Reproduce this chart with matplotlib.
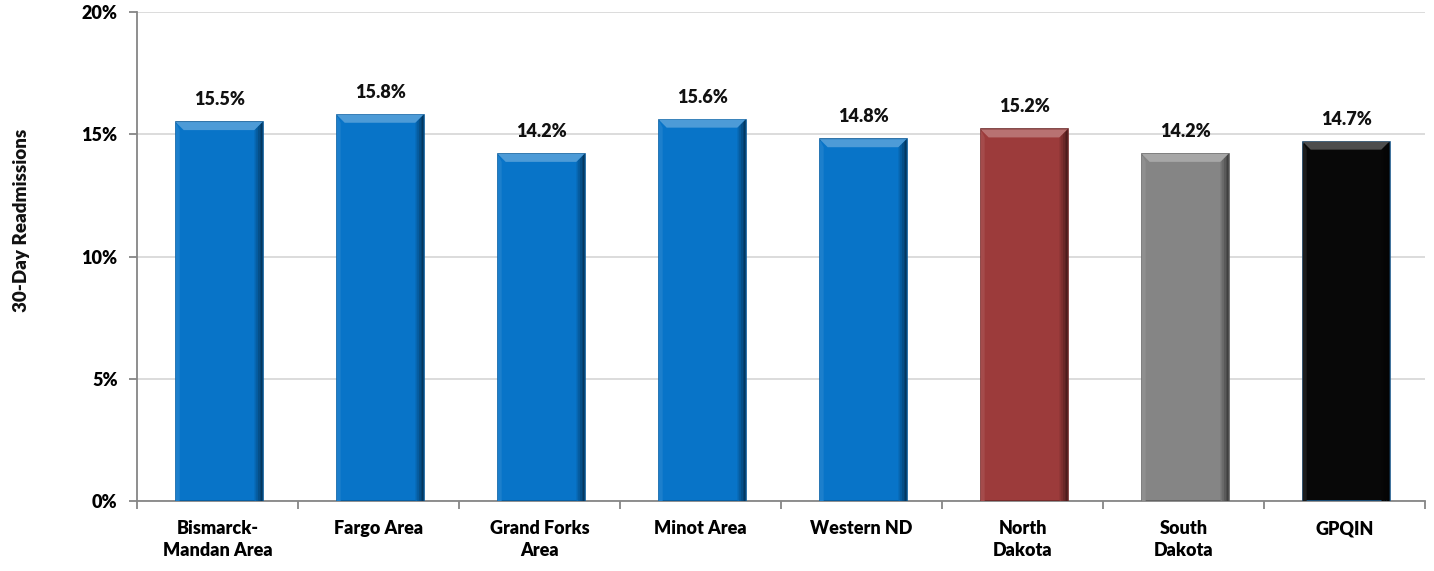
import matplotlib.pyplot as plt
import numpy as np
from matplotlib.patches import Polygon
from matplotlib.ticker import FuncFormatter, FixedLocator

plt.rcParams['font.family'] = ['Lato', 'DejaVu Sans']
plt.rcParams['font.weight'] = 'heavy'

regions = ['Bismarck-\nMandan Area', 'Fargo Area', 'Grand Forks\nArea', 'Minot Area',
           'Western ND', 'North\nDakota', 'South\nDakota', 'GPQIN']
readmit = [15.5, 15.8, 14.2, 15.6, 14.8, 15.2, 14.2, 14.7]
bar_colors = ['#0874C8'] * 5 + ['#9C3B3B', '#858585', '#080808']
edge_colors = ['#0A5A98'] * 5 + ['#6E2A2A', '#5E5E5E', '#1E5A8C']

fig = plt.figure(figsize=(14.34, 5.71), dpi=100)
ax = fig.add_axes([137 / 1434, 70 / 571, (1425 - 137) / 1434, (501 - 12) / 571])

x = np.arange(len(regions))
width = 0.54
bars = ax.bar(x + 0.01, readmit, width=width, color=bar_colors, edgecolor=edge_colors,
              linewidth=1.2, zorder=3)


def shade(c, f):
    c = np.array(plt.matplotlib.colors.to_rgb(c))
    if f > 0:
        return tuple(c + (1 - c) * f)
    return tuple(c * (1 + f))


# bevel: lighter top band, darker right side
bx = 0.05   # horizontal bevel in category units
by = 0.33   # vertical bevel in percent
for b, v, col in zip(bars, readmit, bar_colors):
    l, r = b.get_x(), b.get_x() + b.get_width()
    top = Polygon([(l, v), (r, v), (r - bx, v - by), (l + bx, v - by)],
                  closed=True, facecolor=shade(col, 0.28), edgecolor='none', zorder=4)
    ax.add_patch(top)
    # right side fades to dark in a few steps
    steps = 5
    for k in range(steps):
        x0 = r - bx + bx * k / steps
        x1 = r - bx + bx * (k + 1) / steps
        y0 = v - by + by * k / steps
        y1 = v - by + by * (k + 1) / steps
        side = Polygon([(x0, y0), (x1, y1), (x1, 0), (x0, 0)], closed=True,
                       facecolor=shade(col, -0.12 - 0.4 * k / (steps - 1)),
                       edgecolor='none', zorder=4)
        ax.add_patch(side)
    left = Polygon([(l, v), (l + bx * 0.5, v - by), (l + bx * 0.5, 0), (l, 0)],
                   closed=True, facecolor=shade(col, 0.08), edgecolor='none', zorder=4)
    ax.add_patch(left)

for b, v in zip(bars, readmit):
    ax.annotate(f'{v:.1f}%', (b.get_x() + b.get_width() / 2, v),
                xytext=(0, 10), textcoords='offset points',
                ha='center', va='bottom', fontsize=13, fontweight='heavy', color='#111111')

ax.set_ylim(0, 20)
ax.set_xlim(-0.5, len(regions) - 0.5)
ax.set_yticks([0, 5, 10, 15, 20])
ax.yaxis.set_major_formatter(FuncFormatter(lambda v, p: f'{v:.0f}%'))
ax.yaxis.grid(True, color='#D9D9D9', linewidth=1.3, zorder=0)
ax.set_axisbelow(True)

ax.set_xticks(x)
ax.set_xticklabels(regions, fontsize=13, fontweight='heavy', linespacing=1.3)
ax.xaxis.set_minor_locator(FixedLocator(np.arange(-0.5, len(regions), 1)))
ax.tick_params(axis='x', which='major', length=0, pad=14)
ax.tick_params(axis='x', which='minor', length=6, color='#868686', width=1.3)
ax.tick_params(axis='y', length=6, color='#868686', width=1.3, labelsize=13, pad=8)

for s in ['top', 'right']:
    ax.spines[s].set_visible(False)
for s in ['left', 'bottom']:
    ax.spines[s].set_color('#868686')
    ax.spines[s].set_linewidth(1.3)

fig.text(22 / 1434, 1 - 220 / 571, '30-Day Readmissions', rotation=90, ha='center',
         va='center', fontsize=13.5, fontweight='heavy', color='#111111')

fig.savefig('out.png', dpi=100)
